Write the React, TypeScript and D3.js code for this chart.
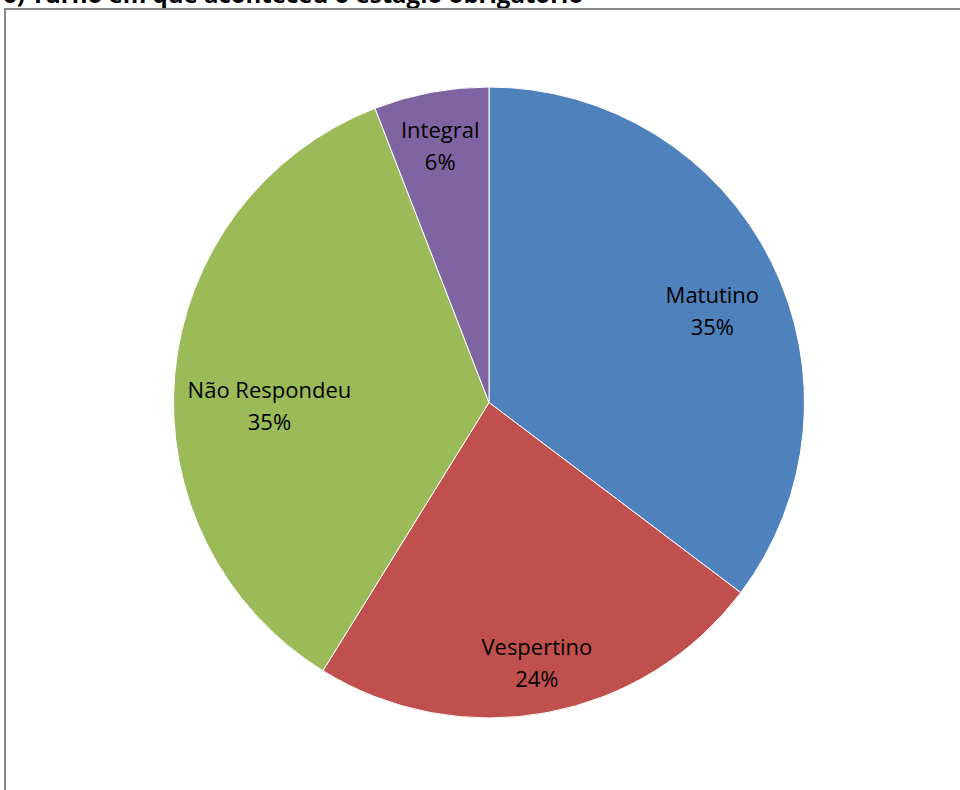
import React from "react";
import * as d3 from "d3";

const categories = ["Matutino", "Vespertino", "Não Respondeu", "Integral"];
const counts = [6, 4, 6, 1];
const colors = ["#4F81BD", "#C0504D", "#9BBB59", "#8064A2"];
const title = "6) Turno em que aconteceu o estágio obrigatório";

const W = 960;
const H = 790;
const cx = 489;
const cy = 402.5;
const R = 315.5;
const FONT = "'Open Sans', 'DejaVu Sans', sans-serif";
const FS = 22;
const LINE = 32;

function measure(text: string): number {
  if (typeof document === "undefined") return text.length * FS * 0.5;
  const c = document.createElement("canvas");
  const ctx = c.getContext("2d");
  if (!ctx) return text.length * FS * 0.5;
  ctx.font = `${FS}px 'Open Sans'`;
  return ctx.measureText(text).width;
}

export default function App() {
  const total = d3.sum(counts);
  const pie = d3
    .pie<number>()
    .value((d) => d)
    .sort(null)
    .startAngle(0)
    .endAngle(2 * Math.PI);
  const arcs = pie(counts);
  const arc = d3.arc<d3.PieArcDatum<number>>().innerRadius(0).outerRadius(R);

  const labels = arcs.map((a, i) => {
    const pct = `${Math.round((counts[i] / total) * 100)}%`;
    const w = Math.max(measure(categories[i]), measure(pct));
    const hw = w / 2;
    const hh = 32;
    const mid = (a.startAngle + a.endAngle) / 2;
    const dx = Math.sin(mid);
    const dy = -Math.cos(mid);
    const target = R * 0.97;
    let r = 0;
    for (let t = 0; t < R; t += 0.5) {
      const fx = Math.abs(t * dx) + hw;
      const fy = Math.abs(t * dy) + hh;
      if (Math.hypot(fx, fy) > target) break;
      r = t;
    }
    return { x: cx + r * dx, y: cy + r * dy + 20 * dx * dx, name: categories[i], pct };
  });

  return (
    <svg
      width={W}
      height={H}
      style={{ position: "absolute", left: 0, top: 0, display: "block", background: "#fff" }}
    >
      <text x={3} y={3} fontFamily={FONT} fontWeight="bold" fontSize={24} fill="#000">
        {title}
      </text>
      <rect x={5} y={9} width={W + 20} height={H + 20} fill="#fff" stroke="#878787" strokeWidth={2} />
      <g transform={`translate(${cx},${cy})`}>
        {arcs.map((a, i) => (
          <path key={i} d={arc(a) || ""} fill={colors[i]} stroke="#ffffff" strokeWidth={1} />
        ))}
      </g>
      {labels.map((l, i) => (
        <g key={i} fontFamily={FONT} fontSize={FS} fill="#000" textAnchor="middle">
          <text x={l.x} y={l.y - 4}>{l.name}</text>
          <text x={l.x} y={l.y - 4 + LINE}>{l.pct}</text>
        </g>
      ))}
    </svg>
  );
}
